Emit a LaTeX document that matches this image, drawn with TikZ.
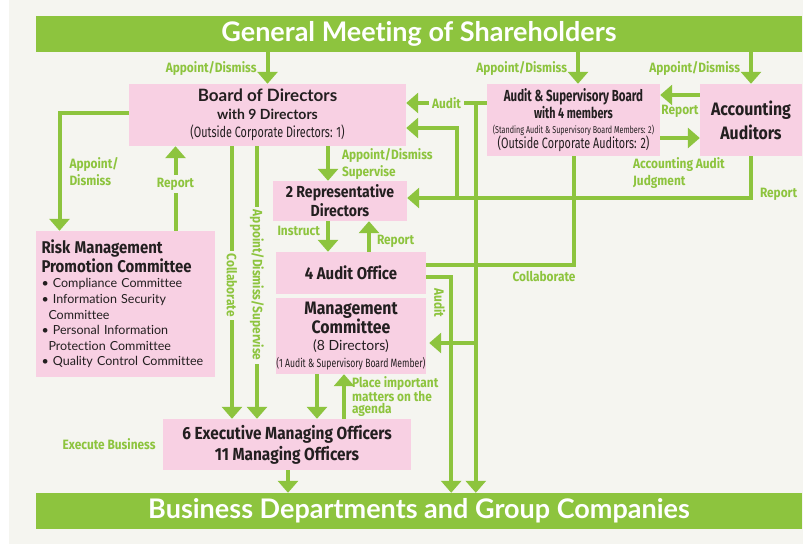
\documentclass[tikz,border=0pt]{standalone}
\usepackage{fontspec}
\setmainfont{Fira Sans}
\newfontfamily\cnd[FakeStretch=0.88,Ligatures=NoCommon]{Fira Sans}
\newfontfamily\nrw[FakeStretch=0.72,Ligatures=NoCommon]{Fira Sans}
\newfontfamily\avn[Ligatures=NoCommon]{Lato}
\usetikzlibrary{arrows.meta}
\definecolor{grn}{HTML}{8DC43E}
\definecolor{pnk}{HTML}{F8D0E3}
\definecolor{bgc}{HTML}{F5F5F0}
\definecolor{ink}{HTML}{231F20}
\newcommand{\fsz}[2]{\fontsize{#1}{#2}\selectfont}

\begin{document}
\begin{tikzpicture}[x=1pt, y=-1pt,
	bar/.style={fill=grn, text=white, minimum width=766pt, minimum height=36pt, inner sep=0pt, font=\avn\bfseries\fsz{27}{27}},
	box/.style={fill=pnk, text=ink, inner sep=0pt, align=center},
	ln/.style={draw=grn, line width=4pt},
	arr/.style={ln, -{Triangle[width=20pt,length=12pt]}},
	lbl/.style={text=grn, font=\cnd\bfseries\fsz{13.5}{13.5}, inner sep=2pt},
	gap/.style={lbl, fill=bgc, inner sep=3pt}]
	\useasboundingbox (0,0) rectangle (803,544);
	\fill[bgc] (9,0) rectangle (803,544);

	\node[bar] (gms) at (419,34) {General Meeting of Shareholders};
	\node[bar] (bdg) at (419,511) {Business Departments and Group Companies};

	\node[box, minimum width=277pt, minimum height=62pt, font=\fsz{14}{18}] (board) at (267.5,115) {{\avn\bfseries\fsz{17}{19}Board of Directors}\\{\avn\bfseries with 9 Directors}\\{\nrw\fsz{15}{17}(Outside Corporate Directors: 1)}};
	\node[box, minimum width=173pt, minimum height=72pt, font=\nrw\fsz{15}{15}] (asb) at (573.5,120) {{\bfseries\fsz{16}{16}Audit \& Supervisory Board}\\{\bfseries with 4 members}\\{\fsz{10}{12}(Standing Audit \& Supervisory Board Members: 2)}\\(Outside Corporate Auditors: 2)};
	\node[box, minimum width=102pt, minimum height=72pt, font=\cnd\bfseries\fsz{18}{24}] (accaud) at (751,120) {Accounting\\Auditors};
	\node[box, minimum width=134pt, minimum height=40pt, font=\cnd\bfseries\fsz{16}{19}] (rep) at (340,201) {2 Representative\\Directors};
	\node[box, minimum width=150pt, minimum height=42pt, font=\cnd\bfseries\fsz{17}{19}] (aoff) at (351,273) {4 Audit Office};
	\node[box, minimum width=150pt, minimum height=76pt, font=\fsz{14}{17}] (mgmt) at (351,336) {{\cnd\bfseries\fsz{18}{19}Management}\\{\cnd\bfseries\fsz{18}{19}Committee}\\{\avn (8 Directors)}\\{\nrw\fsz{12}{14}(1 Audit \& Supervisory Board Member)}};
	\node[box, minimum width=179pt, minimum height=146pt, text width=168pt, align=left, font=\avn\fsz{12.5}{15.6}] (risk) at (125.5,304) {{\cnd\bfseries\fsz{17}{19}Risk Management}\\{\cnd\bfseries\fsz{17}{18}Promotion Committee}\\\textbullet\ Compliance Committee\\\textbullet\ Information Security\\\hspace*{7pt}Committee\\\textbullet\ Personal Information\\\hspace*{7pt}Protection Committee\\\textbullet\ Quality Control Committee};
	\node[box, minimum width=248pt, minimum height=51pt, font=\cnd\bfseries\fsz{17.5}{21}] (exec) at (287,444.5) {6 Executive Managing Officers\\11 Managing Officers};

	% shareholders
	\draw[arr] (gms.south -| board.north) -- (board.north) node[lbl, midway, left=7pt]{Appoint/Dismiss};
	\draw[arr] ([xshift=4.5pt]gms.south -| asb.north) -- ([xshift=4.5pt]asb.north) node[lbl, midway, left=7pt]{Appoint/Dismiss};
	\draw[arr] (gms.south -| accaud.north) -- (accaud.north) node[lbl, midway, left=7pt]{Appoint/Dismiss};

	% auditors
	\draw[arr] ([yshift=25pt]accaud.west) -- ([yshift=25pt]asb.east) node[lbl, midway, below=6pt]{Report};
	\draw[arr] ([yshift=-18pt]asb.east) -- ([yshift=-18pt]accaud.west);
	\node[lbl, anchor=north west, align=left, font=\cnd\bfseries\fsz{13.5}{17}] (judg) at (631,155) {Accounting Audit\\Judgment};

	\coordinate (audY) at ([yshift=17pt]asb.west);
	\draw[arr] (audY) -- (audY -| board.east) node[gap, midway]{Audit};
	\coordinate (audJ) at ([xshift=-11pt]audY);
	\draw[arr] (audJ) -- (audJ |- bdg.north);
	\coordinate (mgIn) at ([yshift=-7pt]mgmt.east);
	\draw[arr, shorten >=3pt] (audJ |- mgIn) -- (mgIn);

	\coordinate (aoJ) at ([xshift=25pt]aoff.east);
	\draw[arr] ([yshift=-4pt]aoff.east) -| (aoJ |- bdg.north) node[lbl, pos=0.56, rotate=-90, anchor=north, inner sep=4pt]{Audit};
	\draw[ln] ([yshift=8pt]aoff.east) -| (asb.south) node[lbl, pos=0.4, below=2pt]{Collaborate};

	\coordinate (repIn) at ([yshift=3pt]rep.east);
	\draw[arr] (accaud.south) |- (repIn) node[lbl, pos=0.45, right=5pt]{Report};
	\coordinate (brdIn) at ([yshift=-13pt]board.east);
	\draw[arr] ([xshift=-30pt]asb.west |- repIn) |- (brdIn);

	% representative directors
	\draw[arr] ([xshift=-12pt]rep.north |- board.south) -- ([xshift=-12pt]rep.north) node[lbl, midway, right=10pt, align=left, font=\cnd\bfseries\fsz{13.5}{17}]{Appoint/Dismiss\\Supervise};
	\draw[arr] ([xshift=-12pt]rep.south) -- ([xshift=-12pt]rep.south |- aoff.north) node[lbl, left=4pt, pos=0.32]{Instruct};
	\draw[arr] ([xshift=29pt]rep.south |- aoff.north) -- ([xshift=29pt]rep.south) node[lbl, right=4pt, pos=0.35]{Report};

	% risk management
	\draw[arr] ([yshift=2pt]board.west) -| ([xshift=-66pt]risk.north) node[lbl, pos=0.75, right=6pt, align=left, font=\cnd\bfseries\fsz{13.5}{17}]{Appoint/\\Dismiss};
	\draw[arr] ([xshift=50pt]risk.north) -- ([xshift=50pt]risk.north |- board.south) node[gap, pos=0.55]{Report};

	% officers
	\draw[arr] ([xshift=-55pt]exec.north |- board.south) -- ([xshift=-55pt]exec.north) node[gap, pos=0.51, rotate=-90]{Collaborate};
	\draw[arr] ([xshift=-30pt]exec.north |- board.south) -- ([xshift=-30pt]exec.north) node[gap, pos=0.51, rotate=-90]{Appoint/Dismiss/Supervise};
	\draw[arr] ([xshift=-34pt]mgmt.south) -- ([xshift=-34pt]mgmt.south |- exec.north);
	\draw[arr] ([xshift=-7pt]mgmt.south |- exec.north) -- ([xshift=-7pt]mgmt.south) node[lbl, midway, right=4pt, align=left, font=\cnd\bfseries\fsz{13.5}{12.5}]{Place important\\matters on the\\agenda};
	\node[lbl, anchor=east] (exbus) at ([xshift=-5pt]exec.west) {Execute Business};
	\draw[arr] ([xshift=1pt]exec.south) -- ([xshift=1pt]exec.south |- bdg.north);
\end{tikzpicture}
\end{document}
